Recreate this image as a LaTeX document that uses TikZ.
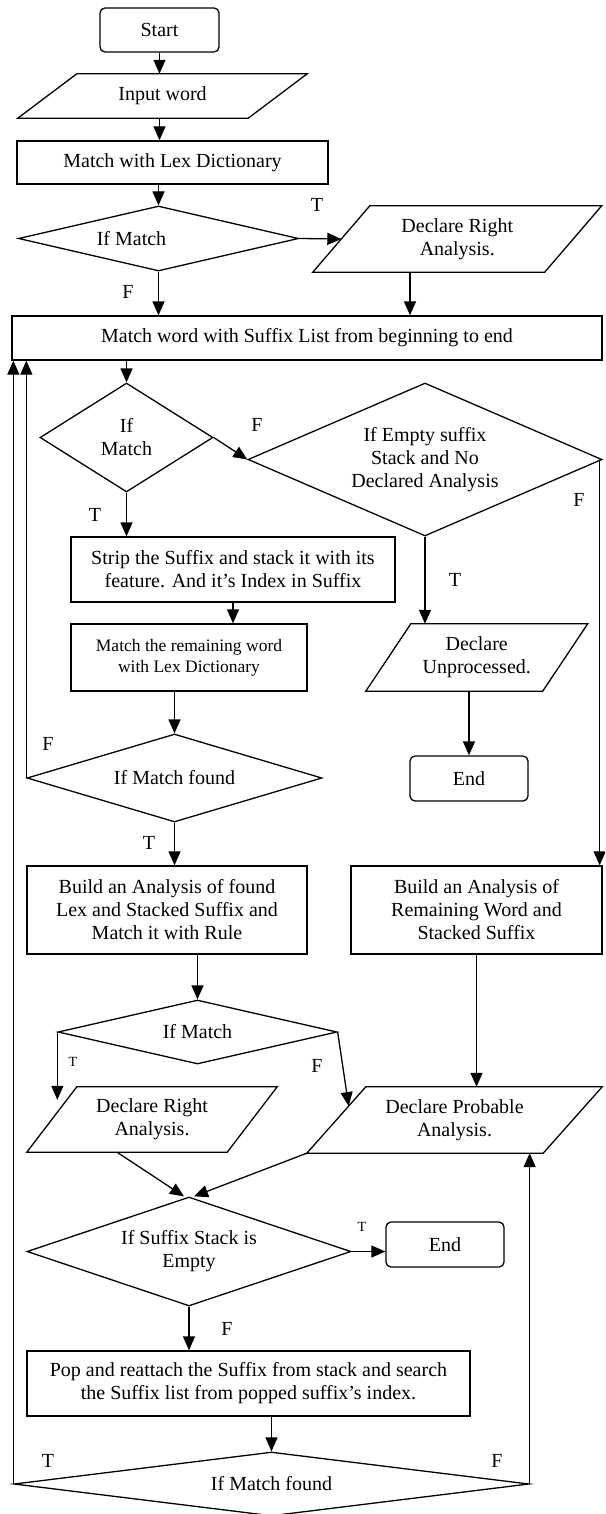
\documentclass[tikz,border=0pt]{standalone}
\usepackage{fontspec}
\setmainfont{Liberation Serif}
\usetikzlibrary{arrows.meta,shapes.geometric,calc}
\newcommand\mainfs{\fontsize{20}{23}\selectfont}
\newcommand\smallfs{\fontsize{17.5}{21}\selectfont}
\newcommand\tinyfs{\fontsize{14}{16}\selectfont}
\tikzset{
  ln/.style={line width=1.3pt},
  arr/.style={ln,-{Triangle[length=14pt,width=12pt]}},
  box/.style={draw,ln,rectangle,inner sep=0pt,align=center,font=\mainfs},
  term/.style={box,rounded corners=5pt},
  dia/.style={draw,ln,diamond,inner sep=0pt,align=center,font=\mainfs},
  para/.style={rectangle,inner sep=0pt,align=center,font=\mainfs,
    append after command={\pgfextra{\draw[ln,line join=miter]
      ([xshift=#1]\tikzlastnode.north west) -- ([xshift=#1]\tikzlastnode.north east) --
      ([xshift=-#1]\tikzlastnode.south east) -- ([xshift=-#1]\tikzlastnode.south west) -- cycle;}}},
  lbl/.style={font=\mainfs,inner sep=0pt},
  slbl/.style={font=\tinyfs,inner sep=0pt}
}
\begin{document}
\begin{tikzpicture}[x=1pt,y=-1pt]
\useasboundingbox (0,0) rectangle (605,1514);
\clip (0,0) rectangle (605,1514);
% nodes
\node[term,minimum width=119,minimum height=44] (start) at (159.5,30) {Start};
\node[para=29.5pt,minimum width=230,minimum height=44] (input) at (162.5,96) {Input word};
\node[box,minimum width=311,minimum height=43] (lex) at (172.5,162.5) {Match with Lex Dictionary};
\node[dia,aspect=4.3,minimum width=280,minimum height=65] (d1) at (158.5,238.5) {\hspace*{-54pt}If Match};
\node[para=28.5pt,minimum width=231.5,minimum height=66] (dr1) at (457.25,239) {Declare Right\\Analysis.};
\node[box,minimum width=590,minimum height=44] (mw) at (307,338) {Match word with Suffix List from beginning to end};
\node[dia,aspect=1.59,minimum width=173,minimum height=109] (d2) at (126.5,437.5) {If\\Match};
\node[dia,aspect=2.31,minimum width=354,minimum height=153] (d3) at (425,459.5) {If Empty suffix\\Stack and No\\Declared Analysis};
\node[box,minimum width=324,minimum height=65] (strip) at (233,569.5) {Strip the Suffix and stack it with its\\feature. And it's Index in Suffix};
\node[box,font=\smallfs,minimum width=236,minimum height=67] (mrem) at (189,657.5) {Match the remaining word\\with Lex Dictionary};
\node[para=22.5pt,minimum width=176.5,minimum height=67] (unp) at (476.75,657.5) {Declare\\Unprocessed.};
\node[term,minimum width=118,minimum height=45] (end1) at (469,778.5) {End};
\node[dia,aspect=3.35,minimum width=295,minimum height=88] (d4) at (174.5,778) {If Match found};
\node[box,minimum width=280,minimum height=88] (b1) at (167,910) {Build an Analysis of found\\Lex and Stacked Suffix and\\Match it with Rule};
\node[box,minimum width=251,minimum height=88] (b2) at (476.5,910) {Build an Analysis of\\Remaining Word and\\Stacked Suffix};
\node[dia,aspect=4.36,minimum width=279,minimum height=64] (d5) at (197.5,1032) {If Match};
\node[para=25pt,minimum width=200,minimum height=65] (dr2) at (152,1119.5) {Declare Right\\Analysis.};
\node[para=29.5pt,minimum width=236,minimum height=66] (prob) at (454.5,1120) {Declare Probable\\Analysis.};
\node[dia,aspect=2.97,minimum width=324,minimum height=109] (d6) at (189,1251.5) {If Suffix Stack is\\Empty};
\node[term,minimum width=118,minimum height=45] (end2) at (445,1244.5) {End};
\node[box,minimum width=443,minimum height=65] (pop) at (248.5,1383.5) {Pop and reattach the Suffix from stack and search\\the Suffix list from popped suffix's index.};
\node[dia,aspect=8,minimum width=515,minimum height=64] (d7) at (271.5,1484) {If Match found};
% labels
\node[lbl] (lt1) at (317,205) {T};
\node[lbl] (lf1) at (128,292) {F};
\node[lbl] (lf2) at (257,425) {F};
\node[lbl] (lt2) at (95,515) {T};
\node[lbl] (lt3) at (455,580) {T};
\node[lbl] (lf3) at (579,500) {F};
\node[lbl] (lf4) at (48,744) {F};
\node[lbl] (lt4) at (149,843) {T};
\node[slbl] (lt5) at (73,1062) {T};
\node[lbl] (lf5) at (317,1066) {F};
\node[slbl] (lt6) at (362,1227) {T};
\node[lbl] (lf6) at (227,1329) {F};
\node[lbl] (lt7) at (48,1461) {T};
\node[lbl] (lf7) at (497,1461) {F};
% connectors
\draw[arr] (start.south) -- (start.south |- input.north);
\draw[arr] (input.south -| start.south) -- (start.south |- lex.north);
\draw[arr] (d1.north |- lex.south) -- (d1.north);
\draw[arr] (d1.east) -- (dr1.west);
\draw[arr] (d1.south) -- (d1.south |- mw.north);
\draw[arr] ([xshift=-47.25pt]dr1.south) -- ([xshift=-47.25pt]dr1.south |- mw.north);
\draw[arr] (d2.north |- mw.south) -- (d2.north);
\draw[arr] (d2.east) -- (d3.west);
\draw[arr] (d2.south) -- (d2.south |- strip.north);
\draw[arr] (d3.south) -- (d3.south |- unp.north);
\draw[arr] ([xshift=-3pt]d3.east) -- ([xshift=-3pt]d3.east |- b2.north);
\draw[arr] (strip.south) -- (strip.south |- mrem.north);
\draw[arr] (d4.north |- mrem.south) -- (d4.north);
\draw[arr] (d4.west) -- (d4.west |- mw.south);
\draw[arr] (d4.south) -- (d4.south |- b1.north);
\draw[arr] (end1.north |- unp.south) -- (end1.north);
\draw[arr] (d5.north |- b1.south) -- (d5.north);
\draw[arr] (b2.south) -- (b2.south |- prob.north);
\draw[arr] (d5.west) -- ([yshift=-13pt]d5.west |- dr2.north);
\draw[arr] (d5.east) -- ($([xshift=29.5pt]prob.north west)!0.29!([xshift=-29.5pt]prob.south west)$);
\draw[arr] ([xshift=-35pt]dr2.south) -- ([xshift=-5pt]d6.north);
\draw[arr] ([xshift=-29.5pt]prob.south west) -- ([xshift=5pt]d6.north);
\draw[arr] (d6.east) -- (d6.east -| end2.west);
\draw[arr] (d6.south) -- (d6.south |- pop.north);
\draw[arr] (d7.north |- pop.south) -- (d7.north);
\draw[arr] (d7.west) -- (d7.west |- mw.south);
\draw[arr] (d7.east) -- (d7.east |- prob.south);
\end{tikzpicture}
\end{document}
